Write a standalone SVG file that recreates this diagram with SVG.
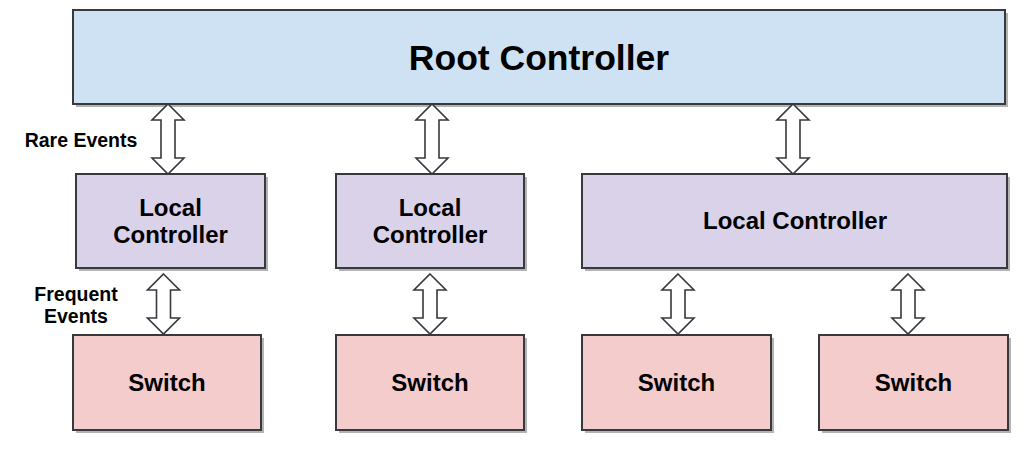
<svg xmlns="http://www.w3.org/2000/svg" width="1028" height="449" viewBox="0 0 1028 449">
<style>
.box{stroke:#36393d;stroke-width:2}
.sh{fill:#b3b3b3}
.root{fill:#cfe2f3}
.lc{fill:#d9d2e9}
.sw{fill:#f4cccc}
text{font-family:"Liberation Sans",Arial,sans-serif;font-weight:bold;fill:#000;text-anchor:middle}
.t24{font-size:24px}
.lbl{font-size:19.5px}
.arr{fill:#fff;stroke:#36393d;stroke-width:1.6;stroke-linejoin:miter}
</style>
<defs>
<path id="a70" d="M0,0 L16,16 L7,16 L7,54 L16,54 L0,70 L-16,54 L-7,54 L-7,16 L-16,16 Z"/>
<path id="a60" d="M0,0 L16,16 L7,16 L7,44 L16,44 L0,60 L-16,44 L-7,44 L-7,16 L-16,16 Z"/>
</defs>
<g id="root">
<rect class="sh" x="76" y="13" width="932" height="94"/>
<rect class="box root" x="73" y="10" width="932" height="94"/>
<text x="539" y="70" style="font-size:35.5px">Root Controller</text>
</g>
<g id="local1">
<rect class="sh" x="79" y="177" width="189" height="94"/>
<rect class="box lc" x="76" y="174" width="189" height="94"/>
<text class="t24" x="170.5" y="216">Local</text>
<text class="t24" x="170.5" y="243">Controller</text>
</g>
<g id="local2">
<rect class="sh" x="339" y="177" width="188" height="94"/>
<rect class="box lc" x="336" y="174" width="188" height="94"/>
<text class="t24" x="430" y="216">Local</text>
<text class="t24" x="430" y="243">Controller</text>
</g>
<g id="local3">
<rect class="sh" x="585" y="177" width="425" height="94"/>
<rect class="box lc" x="582" y="174" width="425" height="94"/>
<text class="t24" x="795" y="229">Local Controller</text>
</g>
<g id="switch1">
<rect class="sh" x="76" y="338" width="188" height="95"/>
<rect class="box sw" x="73" y="335" width="188" height="95"/>
<text class="t24" x="167" y="391">Switch</text>
</g>
<g id="switch2">
<rect class="sh" x="339" y="338" width="188" height="95"/>
<rect class="box sw" x="336" y="335" width="188" height="95"/>
<text class="t24" x="430" y="391">Switch</text>
</g>
<g id="switch3">
<rect class="sh" x="585" y="338" width="189" height="95"/>
<rect class="box sw" x="582" y="335" width="189" height="95"/>
<text class="t24" x="676.5" y="391">Switch</text>
</g>
<g id="switch4">
<rect class="sh" x="822" y="338" width="189" height="95"/>
<rect class="box sw" x="819" y="335" width="189" height="95"/>
<text class="t24" x="913.5" y="391">Switch</text>
</g>
<g id="connectors">
<use href="#a70" class="arr" x="168" y="104"/>
<use href="#a70" class="arr" x="432" y="104"/>
<use href="#a70" class="arr" x="793" y="104"/>
<use href="#a60" class="arr" x="163.5" y="274"/>
<use href="#a60" class="arr" x="430" y="274"/>
<use href="#a60" class="arr" x="678" y="274"/>
<use href="#a60" class="arr" x="908" y="274"/>
</g>
<g id="labels">
<text class="lbl" x="81" y="147">Rare Events</text>
<text class="lbl" x="76" y="301">Frequent</text>
<text class="lbl" x="76" y="323">Events</text>
</g>
</svg>
